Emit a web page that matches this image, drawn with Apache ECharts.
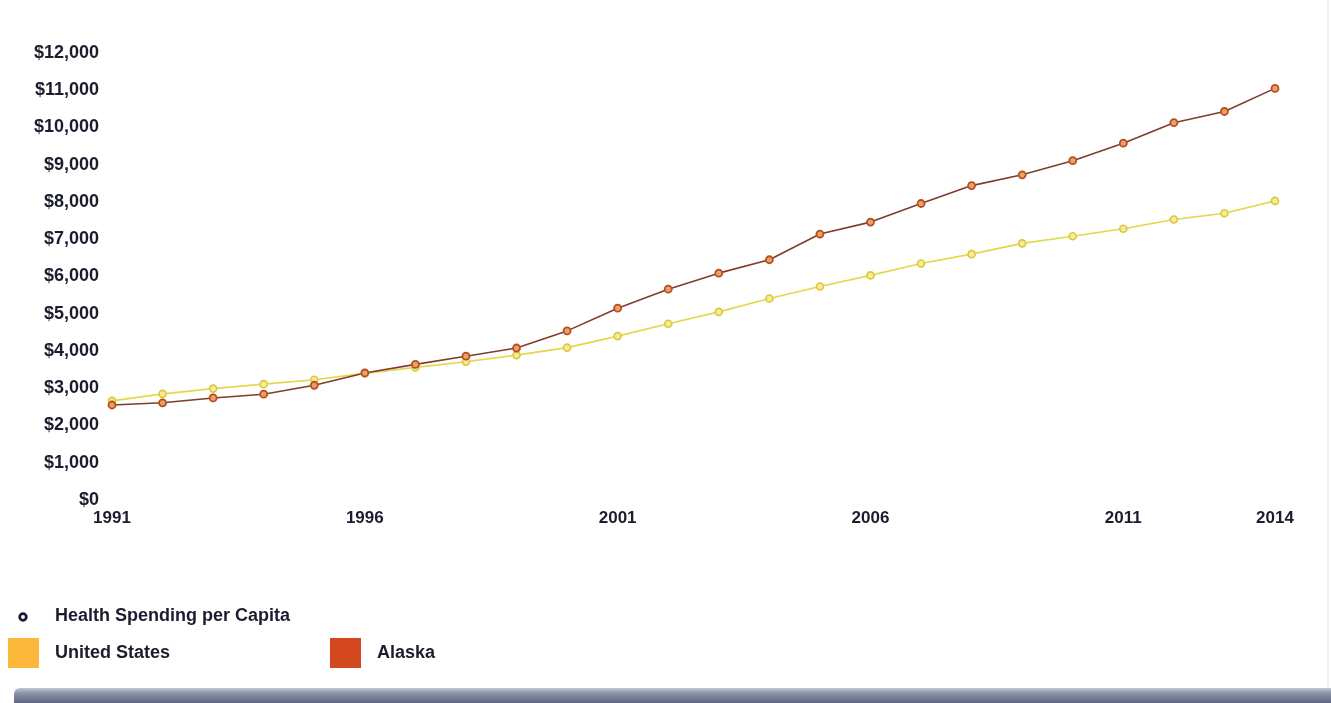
<!DOCTYPE html>
<html>
<head>
<meta charset="utf-8">
<script src="https://cdn.jsdelivr.net/npm/echarts@6/dist/echarts.min.js"></script>
<style>
html,body{margin:0;padding:0;background:#ffffff;}
#chart{width:1331px;height:703px;}
</style>
</head>
<body>
<div id="chart"></div>
<script>
const years = ['1991','1992','1993','1994','1995','1996','1997','1998','1999','2000','2001','2002','2003','2004','2005','2006','2007','2008','2009','2010','2011','2012','2013','2014'];
const shownYears = ['1991','1996','2001','2006','2011','2014'];
const unitedStates = [2660,2850,2990,3110,3230,3400,3560,3710,3890,4090,4400,4730,5050,5410,5730,6030,6350,6600,6890,7080,7280,7530,7700,8030];
const alaska = [2550,2610,2740,2840,3080,3410,3640,3860,4080,4540,5150,5660,6090,6450,7140,7460,7960,8440,8730,9110,9580,10130,10430,11050];
const legendTitle = 'Health Spending per Capita';

const textColor = '#1b1d2e';
const font = '"Liberation Sans", Arial, sans-serif';

const chart = echarts.init(document.getElementById('chart'));
chart.setOption({
  backgroundColor: '#ffffff',
  animation: false,
  grid: {left: 112, right: 56, top: 53, bottom: 203, containLabel: false},
  xAxis: {
    type: 'category',
    data: years,
    boundaryGap: false,
    axisLine: {show: false},
    axisTick: {show: false},
    splitLine: {show: false},
    axisLabel: {
      margin: 10,
      color: textColor,
      fontFamily: font,
      fontWeight: 'bold',
      fontSize: 17,
      interval: (i, v) => shownYears.indexOf(v) >= 0
    }
  },
  yAxis: {
    type: 'value',
    min: 0,
    max: 12000,
    interval: 1000,
    axisLine: {show: false},
    axisTick: {show: false},
    splitLine: {show: false},
    axisLabel: {
      margin: 13,
      color: textColor,
      fontFamily: font,
      fontWeight: 'bold',
      fontSize: 18,
      formatter: v => '$' + v.toLocaleString('en-US')
    }
  },
  legend: [
    {
      data: [{name: 'United States', icon: 'rect', itemStyle: {color: '#fbb83a', borderWidth: 0}}],
      left: 8, top: 638, padding: 0, itemWidth: 31, itemHeight: 30, itemGap: 0,
      textStyle: {color: textColor, fontFamily: font, fontWeight: 'bold', fontSize: 18, padding: [0,0,0,11]}
    },
    {
      data: [{name: 'Alaska', icon: 'rect', itemStyle: {color: '#d4481f', borderWidth: 0}}],
      left: 330, top: 638, padding: 0, itemWidth: 31, itemHeight: 30, itemGap: 0,
      textStyle: {color: textColor, fontFamily: font, fontWeight: 'bold', fontSize: 18, padding: [0,0,0,11]}
    }
  ],
  graphic: [
    {type: 'circle', shape: {cx: 23, cy: 617, r: 3.3}, style: {fill: '#ffffff', stroke: textColor, lineWidth: 2.8}},
    {type: 'text', left: 55, top: 607, style: {text: legendTitle, fill: textColor, font: 'bold 18px ' + font}},
    {type: 'rect', shape: {x: 14, y: 688, width: 1317, height: 15, r: [6,0,0,0]},
      style: {fill: new echarts.graphic.LinearGradient(0,0,0,1,[{offset:0,color:'#c3c8d4'},{offset:0.35,color:'#8a93a8'},{offset:1,color:'#5e6781'}])}},
    {type: 'rect', shape: {x: 1327, y: 0, width: 2, height: 688}, style: {fill: '#eef0f3'}}
  ],
  series: [
    {
      name: 'United States',
      type: 'line',
      data: unitedStates,
      symbol: 'circle',
      symbolSize: 7,
      lineStyle: {color: '#e2d84a', width: 1.6},
      itemStyle: {color: '#f6ec95', borderColor: '#dcc73c', borderWidth: 1.6}
    },
    {
      name: 'Alaska',
      type: 'line',
      data: alaska,
      symbol: 'circle',
      symbolSize: 7,
      lineStyle: {color: '#7e3d2c', width: 1.6},
      itemStyle: {color: '#eba06a', borderColor: '#b4501e', borderWidth: 1.8}
    }
  ]
});
</script>
</body>
</html>
